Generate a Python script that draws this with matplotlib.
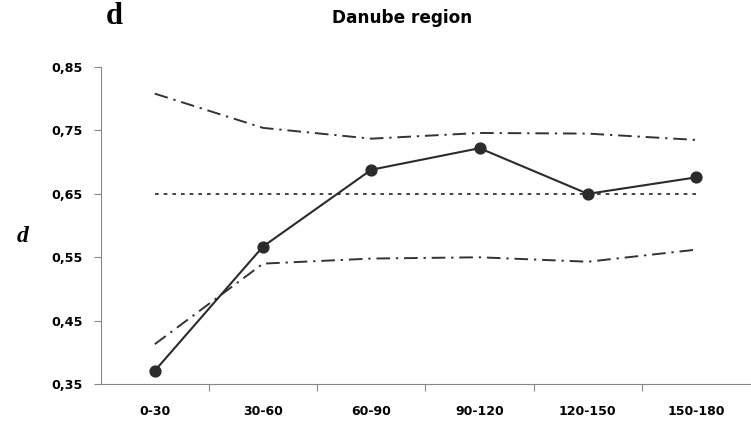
import numpy as np
import matplotlib.pyplot as plt

# ── Data ──────────────────────────────────────────────────────────────────────
categories = ["0-30", "30-60", "60-90", "90-120", "120-150", "150-180"]
d_observed = [0.371, 0.567, 0.688, 0.722, 0.650, 0.676]
d_upper = [0.808, 0.754, 0.737, 0.746, 0.745, 0.735]
d_lower = [0.413, 0.540, 0.548, 0.550, 0.543, 0.562]
d_mean = [0.650] * len(categories)

y_ticks = [0.35, 0.45, 0.55, 0.65, 0.75, 0.85]
y_ticklabels = ["0,35", "0,45", "0,55", "0,65", "0,75", "0,85"]

# ── Plot ──────────────────────────────────────────────────────────────────────
plt.rcParams["font.family"] = ["DejaVu Sans"]

fig = plt.figure(figsize=(7.51, 4.24), dpi=100)
ax = fig.add_axes([0.134, 0.094, 0.865, 0.748])

x = np.arange(len(categories))
dashdot = (0, (7, 3, 1.2, 3))

ax.plot(x, d_upper, color="#333333", linewidth=1.4, linestyle=dashdot)
ax.plot(x, d_lower, color="#333333", linewidth=1.4, linestyle=dashdot)
ax.plot(x, d_mean, color="#222222", linewidth=1.2, linestyle=(0, (2.2, 3)))
ax.plot(x, d_observed, color="#2b2b2b", linewidth=1.5, marker="o",
        markersize=7.8, markerfacecolor="#2b2b2b", markeredgecolor="#2b2b2b")

ax.set_xlim(-0.5, len(categories) - 0.5)
ax.set_ylim(0.35, 0.85)

ax.set_xticks(x)
ax.set_xticklabels(categories, fontsize=9, fontweight="bold")
ax.set_xticks(np.arange(0.5, len(categories) - 0.5, 1.0), minor=True)
ax.tick_params(axis="x", which="major", length=0, pad=15)
ax.tick_params(axis="x", which="minor", length=5, width=0.8, color="#888888",
               direction="out")

ax.set_yticks(y_ticks)
ax.set_yticklabels(y_ticklabels, fontsize=9.2, fontweight="bold")
ax.tick_params(axis="y", length=5, width=0.8, color="#888888", direction="out",
               pad=8)

for side in ("top", "right"):
    ax.spines[side].set_visible(False)
for side in ("left", "bottom"):
    ax.spines[side].set_color("#888888")
    ax.spines[side].set_linewidth(0.8)

fig.text(0.535, 0.958, "Danube region", ha="center", va="center",
         fontsize=12.2, fontweight="bold")
fig.text(0.152, 0.960, "d", ha="center", va="center", fontsize=22,
         fontweight="bold", family=["Liberation Serif", "DejaVu Serif"])
fig.text(0.030, 0.442, "d", ha="center", va="center", fontsize=17,
         fontweight="bold", fontstyle="italic",
         family=["Liberation Serif", "DejaVu Serif"])

fig.savefig("out.png", dpi=100)
